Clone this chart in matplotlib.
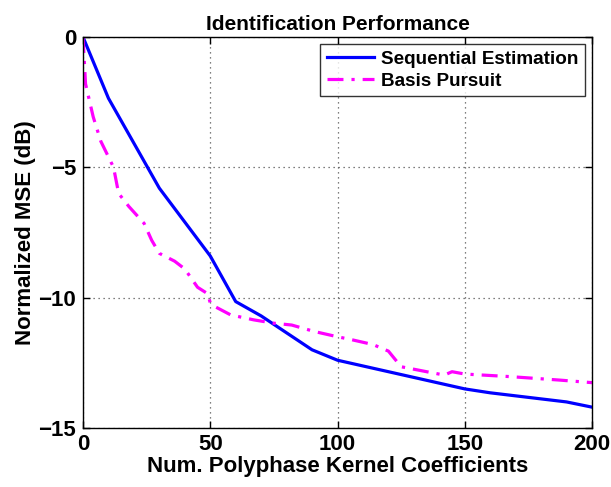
import matplotlib
matplotlib.use("Agg")
import matplotlib.pyplot as plt

seq_x = [0, 10, 30, 50, 60, 70, 80, 90, 100, 150, 160, 190, 200]
seq_y = [0, -2.35, -5.8, -8.4, -10.15, -10.7, -11.35, -12.0, -12.4, -13.5, -13.65, -14.0, -14.2]

bp_x = [0, 1, 4, 7, 10, 12, 14, 18, 24, 27, 30, 36, 40, 45, 49, 50, 51, 58, 67, 75, 82, 91,
        100, 105, 114, 120, 125, 135, 142, 145, 150, 168, 187, 200]
bp_y = [0, -1.8, -3.06, -4.0, -4.6, -5.0, -6.0, -6.5, -7.15, -7.8, -8.3, -8.6, -8.9, -9.6, -9.85,
        -10.2, -10.3, -10.66, -10.85, -10.98, -11.05, -11.3, -11.5, -11.6, -11.8, -12.05, -12.65,
        -12.84, -12.97, -12.84, -12.93, -13.03, -13.16, -13.26]

xticks = [0, 50, 100, 150, 200]
yticks = [0, -5, -10, -15]
ytick_labels = ['0', '\u22125', '\u221210', '\u221215']

plt.rcParams['font.family'] = ['Liberation Sans', 'DejaVu Sans']
plt.rcParams['font.weight'] = 'bold'

fig = plt.figure(figsize=(6.11, 4.87), dpi=100)
ax = fig.add_axes([83/611, 1-428/487, (592-83)/611, (428-37)/487])

ax.plot(seq_x, seq_y, color='#0000ff', lw=2.3, label='Sequential Estimation')
ax.plot(bp_x, bp_y, color='#ff00ff', lw=2.3, linestyle=(0, (5, 2.5, 1, 2.5)), label='Basis Pursuit')

ax.set_xlim(0, 200)
ax.set_ylim(-15, 0)
ax.set_xticks(xticks)
ax.set_yticks(yticks)
ax.set_yticklabels(ytick_labels)
ax.tick_params(direction='in', length=5, width=1, top=True, right=True, labelsize=16)
ax.tick_params(axis='x', pad=4)
ax.tick_params(axis='y', pad=5)
for lbl in ax.get_xticklabels() + ax.get_yticklabels():
    lbl.set_fontweight('bold')
ax.grid(True, linestyle=(0, (1, 3)), color='#555555', lw=0.9)
for s in ax.spines.values():
    s.set_linewidth(1.0)

ax.set_title('Identification Performance', fontsize=15, fontweight='bold', pad=5)
ax.set_xlabel('Num. Polyphase Kernel Coefficients', fontsize=16, fontweight='bold', labelpad=1)
ax.set_ylabel('Normalized MSE (dB)', fontsize=16, fontweight='bold', labelpad=2)

leg = ax.legend(loc='upper right', fontsize=13.6, frameon=True, fancybox=False,
                edgecolor='black', borderpad=0.35, labelspacing=0.25, handlelength=2.5,
                handletextpad=0.37, borderaxespad=0.37)
leg.get_frame().set_linewidth(1.0)
for t in leg.get_texts():
    t.set_fontweight('bold')

fig.savefig('out.png', dpi=100)
